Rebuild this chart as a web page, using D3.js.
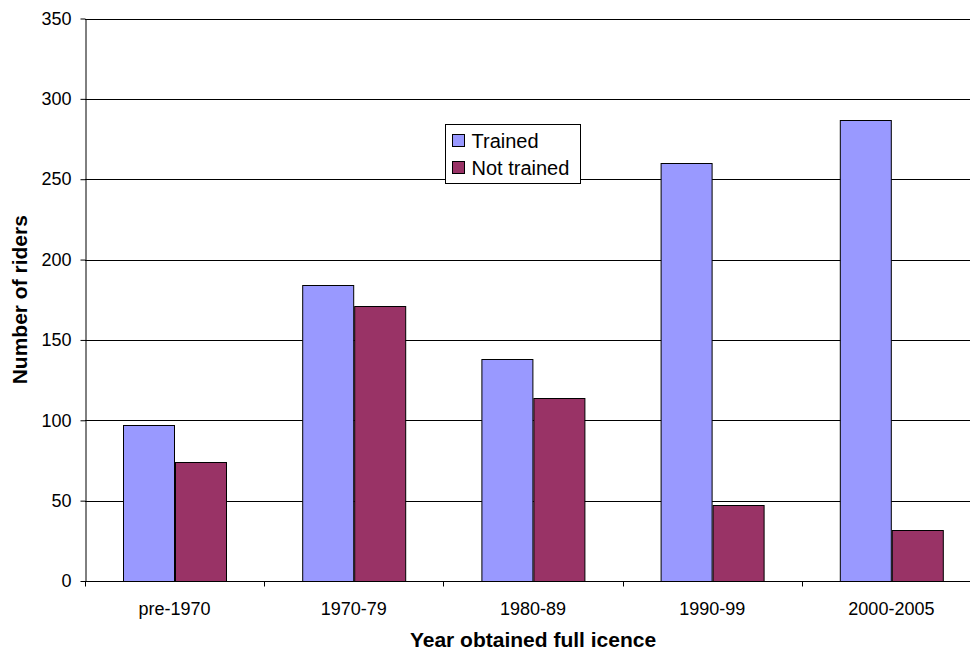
<!DOCTYPE html>
<html>
<head>
<meta charset="utf-8">
<script src="https://cdn.jsdelivr.net/npm/d3@7"></script>
<style>
  html, body { margin: 0; padding: 0; background: #fff; }
  svg { display: block; font-family: Arial, "Liberation Sans", sans-serif; }
</style>
</head>
<body>
<svg id="chart" width="970" height="651"></svg>
<script>
// Riders by year their full licence was obtained
const categories = ["pre-1970", "1970-79", "1980-89", "1990-99", "2000-2005"];
const seriesNames = ["Trained", "Not trained"];
const trained = [97, 184, 138, 260, 287];
const notTrained = [74, 171, 114, 47, 32];
const yTicks = [0, 50, 100, 150, 200, 250, 300, 350];
const colors = ["#9999FF", "#993366"];

const svg = d3.select("#chart");
const plotLeft = 85, plotRight = 981, plotTop = 18.5, plotBottom = 581;

const x = d3.scaleBand().domain(categories).range([plotLeft, plotRight]).paddingInner(0).paddingOuter(0);
const inner = d3.scaleBand().domain(seriesNames).range([0, x.bandwidth()]).paddingOuter(0.74).paddingInner(0);
const y = d3.scaleLinear().domain([0, 350]).range([plotBottom, plotTop]);

// horizontal gridlines
svg.append("g")
  .selectAll("line")
  .data(yTicks.filter(d => d > 0))
  .join("line")
  .attr("x1", plotLeft).attr("x2", plotRight)
  .attr("y1", d => Math.round(y(d)) + 0.5).attr("y2", d => Math.round(y(d)) + 0.5)
  .attr("stroke", "#000").attr("stroke-width", 1);

// bars
const rows = categories.map((c, i) => ({ cat: c, vals: [trained[i], notTrained[i]] }));
const groups = svg.append("g").selectAll("g")
  .data(rows).join("g")
  .attr("transform", d => `translate(${x(d.cat)},0)`);
groups.selectAll("rect")
  .data(d => d.vals.map((v, j) => ({ name: seriesNames[j], v, j })))
  .join("rect")
  .attr("x", d => Math.round(inner(d.name)) + 0.5)
  .attr("width", Math.round(inner.bandwidth()))
  .attr("y", d => Math.round(y(d.v)) + 0.5)
  .attr("height", d => Math.round(plotBottom) - Math.round(y(d.v)))
  .attr("fill", d => colors[d.j])
  .attr("stroke", "#000").attr("stroke-width", 1);

// y axis
const yAxis = svg.append("g")
  .attr("transform", `translate(${plotLeft + 0.5},0)`)
  .call(d3.axisLeft(y).tickValues(yTicks).tickSize(5).tickPadding(9).tickSizeOuter(0));
yAxis.select(".domain").attr("stroke", "#000");
yAxis.selectAll(".tick line").attr("stroke", "#000");
yAxis.selectAll("text").attr("font-size", 18).attr("fill", "#000")
  .attr("font-family", "Arial, 'Liberation Sans', sans-serif");

// x axis with ticks at category boundaries
const xAxisG = svg.append("g").attr("transform", `translate(0,${Math.round(plotBottom) + 0.5})`);
xAxisG.append("line").attr("x1", plotLeft).attr("x2", plotRight).attr("stroke", "#000");
xAxisG.selectAll("line.bt")
  .data(categories)
  .join("line").attr("class", "bt")
  .attr("x1", d => Math.round(x(d)) + 0.5).attr("x2", d => Math.round(x(d)) + 0.5)
  .attr("y1", 0).attr("y2", 5).attr("stroke", "#000");
xAxisG.selectAll("text")
  .data(categories)
  .join("text")
  .attr("x", d => x(d) + x.bandwidth() / 2)
  .attr("y", 33)
  .attr("text-anchor", "middle")
  .attr("font-size", 18)
  .attr("fill", "#000")
  .text(d => d);

// axis titles
svg.append("text")
  .attr("x", (plotLeft + plotRight) / 2).attr("y", 647)
  .attr("text-anchor", "middle")
  .attr("font-size", 21).attr("font-weight", "bold")
  .text("Year obtained full icence");
svg.append("text")
  .attr("transform", `translate(27,${(plotTop + plotBottom) / 2}) rotate(-90)`)
  .attr("text-anchor", "middle")
  .attr("font-size", 21).attr("font-weight", "bold")
  .text("Number of riders");

// legend
const lg = svg.append("g").attr("transform", "translate(445.5,124.5)");
lg.append("rect").attr("width", 135).attr("height", 59)
  .attr("fill", "#fff").attr("stroke", "#000");
seriesNames.forEach((name, i) => {
  const yy = 10 + i * 27;
  lg.append("rect").attr("x", 7).attr("y", yy).attr("width", 12).attr("height", 12)
    .attr("fill", colors[i]).attr("stroke", "#000");
  lg.append("text").attr("x", 26).attr("y", yy + 13)
    .attr("font-size", 20).attr("fill", "#000").text(name);
});
</script>
</body>
</html>
